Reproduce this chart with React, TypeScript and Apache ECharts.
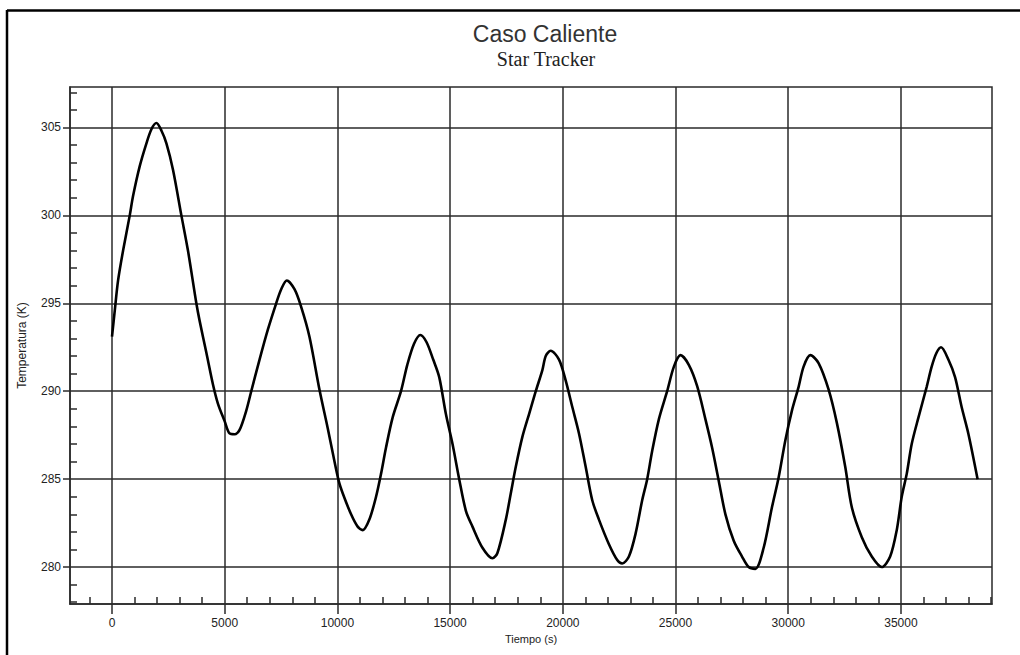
import React, { useEffect, useRef } from "react";
import * as echarts from "echarts";

const TITLE = "Caso Caliente";
const SUBTITLE = "Star Tracker";
const X_NAME = "Tiempo (s)";
const Y_NAME = "Temperatura (K)";

const X_MIN = -1863;
const X_MAX = 39040;
const Y_MIN = 277.9;
const Y_MAX = 307.3;

const X_TICKS = [0, 5000, 10000, 15000, 20000, 25000, 30000, 35000];
const Y_TICKS = [280, 285, 290, 295, 300, 305];

const TIME = [
  0, 124, 270, 492, 788, 934, 1231, 1528, 1750, 1971, 2200, 2414, 2706, 3078, 3370, 3742, 3888,
  4185, 4477, 4699, 4996, 5217, 5438, 5660, 5957, 6178, 6546, 6914, 7285, 7507, 7755, 8096, 8392,
  8760, 9203, 9571, 9792, 10058, 10235, 10607, 10899, 11121, 11417, 11714, 11935, 12157, 12449,
  12821, 13100, 13400, 13680, 13950, 14250, 14517, 14813, 15107, 15403, 15700, 15992, 16435,
  16878, 17099, 17472, 17693, 17914, 18206, 18503, 18800, 19093, 19243, 19464, 19832, 20129,
  20421, 20717, 21014, 21306, 21603, 22046, 22414, 22635, 22932, 23228, 23521, 23743, 23964,
  24260, 24628, 24928, 25221, 25589, 25957, 26328, 26621, 26918, 27214, 27582, 27950, 28246,
  28543, 28910, 29278, 29574, 29871, 30164, 30461, 30682, 30979, 31346, 31789, 32157, 32529,
  32821, 33264, 33707, 34150, 34522, 34814, 35035, 35257, 35478, 35775, 36142, 36364, 36585,
  36780, 37104, 37401, 37693, 37989, 38401,
];

const TEMP = [
  293.1, 294.6, 296.3, 298.0, 300.0, 301.1, 302.8, 304.1, 304.9, 305.25, 304.8, 304.1, 302.6,
  300.0, 298.0, 295.0, 294.0, 292.2, 290.4, 289.3, 288.3, 287.6, 287.55, 287.8, 288.9, 290.0,
  291.8, 293.5, 295.0, 295.8, 296.3, 295.8, 294.8, 293.1, 290.1, 287.9, 286.5, 284.9, 284.2,
  283.0, 282.3, 282.1, 282.7, 284.0, 285.3, 286.8, 288.5, 290.0, 291.5, 292.7, 293.2, 292.8,
  291.8, 290.8, 288.7, 287.0, 285.0, 283.2, 282.3, 281.1, 280.5, 280.8, 282.7, 284.2, 285.7,
  287.4, 288.7, 290.0, 291.2, 292.0, 292.3, 291.8, 290.6, 289.1, 287.6, 285.7, 283.8, 282.7,
  281.3, 280.4, 280.2, 280.6, 281.9, 283.8, 285.0, 286.6, 288.4, 290.0, 291.4, 292.05, 291.5,
  290.3, 288.4, 286.8, 284.9, 283.0, 281.5, 280.6, 280.0, 279.9, 281.1, 283.4, 285.1, 287.2,
  288.9, 290.25, 291.4, 292.05, 291.6, 290.1, 288.2, 285.7, 283.4, 281.7, 280.6, 280.0, 280.6,
  282.1, 284.0, 285.3, 287.0, 288.5, 290.25, 291.4, 292.2, 292.5, 291.8, 290.8, 289.1, 287.6,
  285.0,
];

const FONT = "'Liberation Sans', Arial, sans-serif";
const GRID_COLOR = "#2a2a2a";

export default function App() {
  const ref = useRef<HTMLDivElement>(null);

  useEffect(() => {
    if (!ref.current) return;
    const chart = echarts.init(ref.current, null, { renderer: "svg" });
    const data = TIME.map((t, i) => [t, TEMP[i]]);
    const labelStyle = { color: "#222", fontFamily: FONT, fontSize: 12 };

    chart.setOption({
      animation: false,
      backgroundColor: "#ffffff",
      grid: {
        left: 70,
        right: 28,
        top: 87,
        bottom: 51,
        show: true,
        borderColor: GRID_COLOR,
        borderWidth: 1.5,
        backgroundColor: "transparent",
      },
      graphic: [
        {
          type: "text",
          x: 545,
          y: 22,
          style: {
            text: TITLE,
            textAlign: "center",
            textVerticalAlign: "top",
            fontFamily: FONT,
            fontSize: 23,
            fill: "#333",
          },
        },
        {
          type: "text",
          x: 546,
          y: 49,
          style: {
            text: SUBTITLE,
            textAlign: "center",
            textVerticalAlign: "top",
            fontFamily: "'Liberation Serif', 'Times New Roman', serif",
            fontSize: 20,
            fill: "#222",
          },
        },
        {
          type: "line",
          shape: { x1: 7, y1: 10.5, x2: 1020, y2: 10.5 },
          style: { stroke: "#000", lineWidth: 2.5 },
        },
        {
          type: "line",
          shape: { x1: 7, y1: 10, x2: 7, y2: 655 },
          style: { stroke: "#000", lineWidth: 2.5 },
        },
      ],
      xAxis: [
        {
          type: "value",
          min: X_MIN,
          max: X_MAX,
          splitNumber: 8,
          position: "bottom",
          name: X_NAME,
          nameLocation: "middle",
          nameGap: 27,
          nameTextStyle: { color: "#222", fontFamily: FONT, fontSize: 11 },
          axisLine: { show: true, onZero: false, lineStyle: { color: GRID_COLOR, width: 1.5 } },
          axisTick: {
            show: true,
            inside: false,
            length: 10,
            customValues: X_TICKS,
            lineStyle: { color: GRID_COLOR, width: 1.5 },
          },
          axisLabel: {
            ...labelStyle,
            margin: 13,
            customValues: X_TICKS,
            formatter: (v: number) => String(v),
          },
          splitLine: { show: true, lineStyle: { color: GRID_COLOR, width: 1.5 } },
        },
        {
          type: "value",
          min: X_MIN,
          max: X_MAX,
          splitNumber: 8,
          position: "bottom",
          axisLine: { show: false, onZero: false },
          axisTick: { show: false, inside: true },
          axisLabel: { show: false },
          splitLine: { show: false },
          minorTick: {
            show: true,
            splitNumber: 5,
            length: 7,
            lineStyle: { color: GRID_COLOR, width: 1.5 },
          },
        },
      ],
      yAxis: [
        {
          type: "value",
          min: Y_MIN,
          max: Y_MAX,
          position: "left",
          name: Y_NAME,
          nameLocation: "middle",
          nameGap: 42,
          nameRotate: 90,
          nameTextStyle: { color: "#222", fontFamily: FONT, fontSize: 12 },
          axisLine: { show: true, onZero: false, lineStyle: { color: GRID_COLOR, width: 1.5 } },
          axisTick: {
            show: true,
            inside: false,
            length: 7,
            customValues: Y_TICKS,
            lineStyle: { color: GRID_COLOR, width: 1.5 },
          },
          axisLabel: {
            ...labelStyle,
            margin: 9,
            customValues: Y_TICKS,
            formatter: (v: number) => String(v),
          },
          splitLine: { show: true, lineStyle: { color: GRID_COLOR, width: 1.5 } },
        },
        {
          type: "value",
          min: Y_MIN,
          max: Y_MAX,
          position: "left",
          axisLine: { show: false, onZero: false },
          axisTick: { show: false, inside: true },
          axisLabel: { show: false },
          splitLine: { show: false },
          minorTick: {
            show: true,
            splitNumber: 5,
            length: 7,
            lineStyle: { color: GRID_COLOR, width: 1.5 },
          },
        },
      ],
      series: [
        {
          type: "line",
          xAxisIndex: 0,
          yAxisIndex: 0,
          data,
          showSymbol: false,
          smooth: 0.3,
          lineStyle: { color: "#000", width: 2.6 },
          z: 5,
        },
      ],
    });

    return () => chart.dispose();
  }, []);

  return (
    <div
      ref={ref}
      style={{ position: "absolute", left: 0, top: 0, width: 1020, height: 655, background: "#fff" }}
    />
  );
}
